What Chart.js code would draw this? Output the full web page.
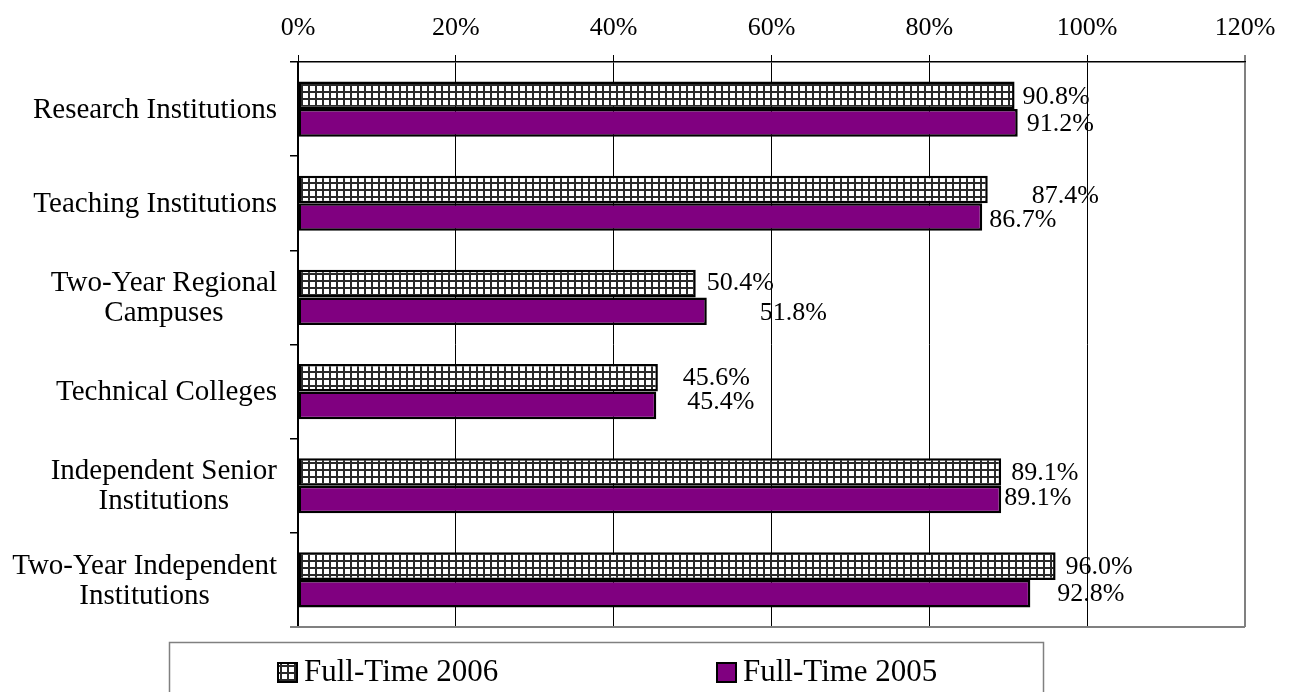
<!DOCTYPE html>
<html>
<head>
<meta charset="utf-8">
<script src="https://cdn.jsdelivr.net/npm/chart.js@4"></script>
<style>
  html, body { margin: 0; padding: 0; background: #fff; }
  #wrap { width: 1292px; height: 692px; position: relative; }
</style>
</head>
<body>
<div id="wrap"><canvas id="chart"></canvas></div>
<script>
const categories = [
  ["Research Institutions"],
  ["Teaching Institutions"],
  ["Two-Year Regional", "Campuses"],
  ["Technical Colleges"],
  ["Independent Senior", "Institutions"],
  ["Two-Year Independent", "Institutions"],
];
const fullTime2006 = [90.8, 87.4, 50.4, 45.6, 89.1, 96.0];
const fullTime2005 = [91.2, 86.7, 51.8, 45.4, 89.1, 92.8];
const seriesNames = ["Full-Time 2006", "Full-Time 2005"];
const xTicks = [0, 20, 40, 60, 80, 100, 120];

// [dx, dy] nudges for the value labels, measured from each bar end
const labelNudge2006 = [[8, 2], [44, 7], [11, 0], [25, 0], [10, 1], [10, 1]];
const labelNudge2005 = [[9, 1], [7, 3], [53, 2], [31, -3], [3, -1], [27, 0]];

const SERIF = "'Liberation Serif', 'Times New Roman', serif";
const PURPLE = "#800080";
const FRAME = "#808080";

function gridPattern() {
  const c = document.createElement("canvas");
  c.width = 7;
  c.height = 7;
  const g = c.getContext("2d");
  g.fillStyle = "#fff";
  g.fillRect(0, 0, 7, 7);
  g.fillStyle = "#2a2a2a";
  g.fillRect(0, 0, 7, 2);
  g.fillRect(0, 0, 2, 7);
  return g.createPattern(c, "repeat");
}
const hatch = gridPattern();

// value labels next to each bar
const valueLabels = {
  id: "valueLabels",
  afterDatasetsDraw(chart) {
    const ctx = chart.ctx;
    ctx.save();
    ctx.font = `26px ${SERIF}`;
    ctx.fillStyle = "#000";
    ctx.textAlign = "left";
    ctx.textBaseline = "middle";
    [labelNudge2006, labelNudge2005].forEach((nudge, di) => {
      const meta = chart.getDatasetMeta(di);
      meta.data.forEach((bar, i) => {
        const v = chart.data.datasets[di].data[i];
        ctx.fillText(v.toFixed(1) + "%", bar.x + nudge[i][0], bar.y + nudge[i][1]);
      });
    });
    ctx.restore();
  },
};

// category labels: block right aligned, lines centred (like Excel)
const categoryLabels = {
  id: "categoryLabels",
  afterDraw(chart) {
    const ctx = chart.ctx;
    const y = chart.scales.y;
    const right = chart.chartArea.left - 21;
    const lineH = 30;
    ctx.save();
    ctx.font = `29px ${SERIF}`;
    ctx.fillStyle = "#000";
    ctx.textAlign = "center";
    ctx.textBaseline = "middle";
    categories.forEach((lines, i) => {
      const w = Math.max(...lines.map(l => ctx.measureText(l).width));
      const cx = right - w / 2;
      const cy = y.getPixelForValue(i) + 1;
      lines.forEach((l, k) => {
        ctx.fillText(l, cx, cy + (k - (lines.length - 1) / 2) * lineH);
      });
    });
    ctx.restore();
  },
};

// grey frame on the right/bottom plus the boxed legend under the plot
const frameAndLegend = {
  id: "frameAndLegend",
  afterDraw(chart) {
    const ctx = chart.ctx;
    const a = chart.chartArea;
    ctx.save();
    ctx.strokeStyle = FRAME;
    ctx.lineWidth = 2;
    ctx.beginPath();
    ctx.moveTo(a.left - 8, a.bottom);
    ctx.lineTo(a.right, a.bottom);
    ctx.stroke();

    ctx.lineWidth = 1.5;
    ctx.strokeRect(169.5, 642.5, 874, 80);

    const items = [
      { x: 278, fill: hatch },
      { x: 717, fill: PURPLE },
    ];
    ctx.font = `31px ${SERIF}`;
    ctx.textAlign = "left";
    ctx.textBaseline = "middle";
    items.forEach((it, i) => {
      ctx.fillStyle = it.fill;
      ctx.fillRect(it.x, 663, 19, 19);
      ctx.strokeStyle = "#000";
      ctx.lineWidth = 2;
      ctx.strokeRect(it.x, 663, 19, 19);
      ctx.fillStyle = "#000";
      ctx.fillText(seriesNames[i], it.x + 26, 673);
    });
    ctx.restore();
  },
};

new Chart(document.getElementById("chart"), {
  type: "bar",
  data: {
    labels: categories.map(c => c.join(" ")),
    datasets: [
      {
        label: seriesNames[0],
        data: fullTime2006,
        backgroundColor: hatch,
        borderColor: "#000",
        borderWidth: 2.5,
        borderSkipped: false,
        categoryPercentage: 0.585,
        barPercentage: 1,
      },
      {
        label: seriesNames[1],
        data: fullTime2005,
        backgroundColor: PURPLE,
        borderColor: "#000",
        borderWidth: 2.5,
        borderSkipped: false,
        categoryPercentage: 0.585,
        barPercentage: 1,
      },
    ],
  },
  options: {
    indexAxis: "y",
    responsive: true,
    maintainAspectRatio: false,
    animation: false,
    layout: { padding: { left: 0, right: 47, top: 0, bottom: 65 } },
    plugins: {
      legend: { display: false },
      tooltip: { enabled: false },
    },
    scales: {
      x: {
        position: "top",
        min: xTicks[0],
        max: xTicks[xTicks.length - 1],
        afterBuildTicks: (scale) => {
          scale.ticks = xTicks.map(v => ({ value: v }));
        },
        afterFit: (scale) => { scale.height = 62; },
        ticks: {
          callback: (v) => v + "%",
          color: "#000",
          padding: 11,
          font: { family: SERIF, size: 26 },
        },
        grid: {
          color: (c) => (c.tick && c.tick.value === 120 ? FRAME : "#000"),
          lineWidth: (c) => (c.tick && c.tick.value === 120 ? 2 : 1),
          tickLength: 7,
        },
        border: { color: "#000", width: 1.5 },
      },
      y: {
        afterFit: (scale) => { scale.width = 298; },
        ticks: { display: false },
        grid: {
          offset: true,
          drawOnChartArea: false,
          tickLength: 8,
          color: "#000",
          lineWidth: 1.5,
        },
        border: { color: "#000", width: 2 },
      },
    },
  },
  plugins: [valueLabels, categoryLabels, frameAndLegend],
});
</script>
</body>
</html>
